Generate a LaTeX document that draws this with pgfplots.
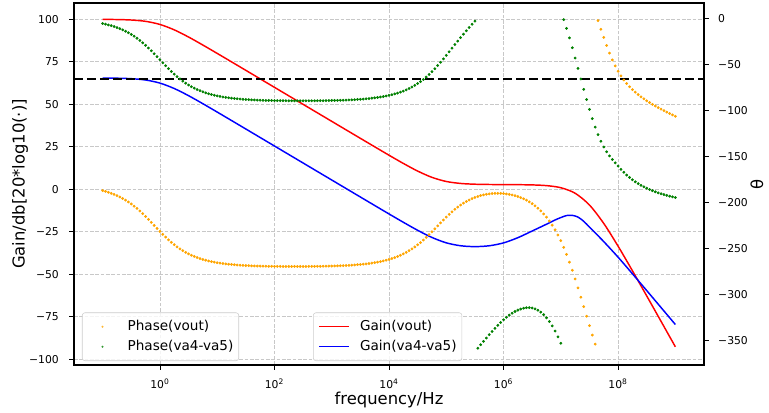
\documentclass[border=0pt]{standalone}
\usepackage{fontspec}
\setmainfont{DejaVu Sans}
\usepackage{pgfplots}
\pgfplotsset{compat=1.18}

\definecolor{gridgray}{RGB}{200,200,200}
\definecolor{legframe}{RGB}{204,204,204}
\definecolor{mplorange}{RGB}{255,165,0}
\definecolor{mplgreen}{RGB}{0,128,0}

\newcommand\tickfont{\fontsize{8.1}{9.7}\selectfont}
\newcommand\legfont{\fontsize{10.2}{12}\selectfont}
\newcommand\labfont{\fontsize{12.3}{14.8}\selectfont}

% x is log10(f); one px of the reference = 0.75pt
\pgfplotsset{
  bode/.style={
    scale only axis, width=472.5pt, height=271.5pt,
    xmin=-1.5, xmax=9.5,
    tick align=outside, major tick length=3.7pt,
    every tick/.style={black, line width=0.6pt},
    ticklabel style={font=\tickfont},
    legend cell align=left,
    legend style={font=\legfont, draw=legframe, fill=white, fill opacity=0.8,
      text opacity=1, rounded corners=2pt, inner xsep=4pt, inner ysep=5pt,
      column sep=7.5pt, row sep=4pt, anchor=south west,
      nodes={inner xsep=0pt, inner ysep=0pt, text height=8.5pt, text depth=2.5pt}},
  },
  phase/.style={only marks, mark=*, mark size=0.85pt, #1,
    legend image code/.code={\path[draw=none, fill=none] (0pt,-1pt) rectangle (22.5pt,1pt);
      \fill[#1, draw=none] (11.25pt,0pt) circle[radius=0.85pt];}},
}

\begin{document}
\begin{tikzpicture}
\begin{axis}[bode, name=gain,
  ymin=-103.3, ymax=109.6,
  axis line style={black, line width=0.8pt},
  tick pos=left,
  xtick={0,2,4,6,8},
  xticklabels={10\textsuperscript{0},10\textsuperscript{2},10\textsuperscript{4},10\textsuperscript{6},10\textsuperscript{8}},
  ytick={-100,-75,-50,-25,0,25,50,75,100},
  yticklabels={−100,−75,−50,−25,0,25,50,75,100},
  xticklabel style={anchor=north, inner sep=0pt, yshift=-6.5pt},
  yticklabel style={anchor=east, inner sep=0pt, xshift=-7.5pt},
  grid=major,
  major grid style={gridgray, line width=0.6pt, dash pattern=on 2.8pt off 1.2pt},
  xlabel={frequency/Hz},
  ylabel={Gain/db[20*log10(·)]},
  xlabel style={font=\labfont, at={(axis description cs:0.5,-0.0967)}, anchor=center},
  ylabel style={font=\labfont, at={(axis description cs:-0.0857,0.5)}, anchor=center},
  legend style={at={(0.3794,0.011)}},
  legend image code/.code={\draw[#1] (0pt,0pt) -- (22.5pt,0pt);},
]
\addplot[red, line width=1.1pt, smooth] coordinates {
(-1,99.96)(-0.75,99.87)(-0.5,99.59)(-0.25,98.81)(0,96.99)(0.25,93.81)(0.5,89.59)(0.75,84.87)
(1,79.96)(1.25,74.99)(1.5,70.00)(1.75,65.00)(2,60.00)(2.25,55.00)(2.5,50.00)(2.75,45.00)
(3,40.00)(3.25,35.00)(3.5,30.01)(3.75,25.03)(4,20.08)(4.25,15.25)(4.5,10.76)(4.75,7.05)
(5,4.63)(5.25,3.47)(5.5,3.02)(5.75,2.86)(6,2.80)(6.25,2.74)(6.5,2.61)(6.75,2.19)
(7,0.96)(7.25,-2.30)(7.5,-9.21)(7.75,-20.07)(8,-33.44)(8.25,-47.87)(8.5,-62.69)(8.75,-77.63)(9,-92.61)};
\addlegendentry{Gain(vout)}
\addplot[blue, line width=1.1pt, smooth] coordinates {
(-1,65.46)(-0.75,65.37)(-0.5,65.09)(-0.25,64.31)(0,62.49)(0.25,59.31)(0.5,55.09)(0.75,50.37)
(1,45.46)(1.25,40.49)(1.5,35.50)(1.75,30.50)(2,25.50)(2.25,20.50)(2.5,15.50)(2.75,10.50)
(3,5.50)(3.25,0.50)(3.5,-4.50)(3.75,-9.49)(4,-14.46)(4.25,-19.36)(4.5,-24.08)(4.75,-28.29)
(5,-31.45)(5.25,-33.17)(5.5,-33.68)(5.75,-33.18)(6,-31.49)(6.25,-28.42)(6.5,-24.49)(6.75,-20.5)
(6.9,-18.0)(7.0,-16.6)(7.1,-15.4)(7.2,-15.3)(7.3,-16.3)(7.4,-18.8)(7.5,-22.2)(7.6,-25.6)
(7.75,-30.74)(8,-39.9)(8.25,-49.63)(8.5,-59.54)(8.75,-69.51)(9,-79.5)};
\addlegendentry{Gain(va4-va5)}
\addplot[black, line width=1.5pt, dash pattern=on 6.75pt off 3pt, forget plot]
  coordinates {(-1.5,65) (9.5,65)};
\end{axis}

\begin{axis}[bode,
  ymin=-376.6, ymax=16.6,
  axis x line=none,
  axis y line*=right,
  y axis line style={black, line width=0.8pt, -},
  ytick={-350,-300,-250,-200,-150,-100,-50,0},
  yticklabels={−350,−300,−250,−200,−150,−100,−50,0},
  yticklabel style={anchor=west, inner sep=0pt, xshift=6.75pt},
  ylabel={θ},
  ylabel style={font=\labfont, at={(axis description cs:1.0841,0.5)}, anchor=center},
  legend style={at={(0.0127,0.011)}},
]
\addplot[phase=mplorange] coordinates {
(-1.00,-187.2)(-0.95,-188.0)(-0.90,-189.0)(-0.85,-190.1)(-0.80,-191.3)(-0.75,-192.6)(-0.70,-194.1)(-0.65,-195.7)(-0.60,-197.5)(-0.55,-199.5)
(-0.50,-201.7)(-0.45,-204.1)(-0.40,-206.6)(-0.35,-209.3)(-0.30,-212.2)(-0.25,-215.3)(-0.20,-218.5)(-0.15,-221.7)(-0.10,-225.0)(-0.05,-228.3)
(0.00,-231.5)(0.05,-234.7)(0.10,-237.7)(0.15,-240.6)(0.20,-243.4)(0.25,-245.9)(0.30,-248.3)(0.35,-250.5)(0.40,-252.4)(0.45,-254.3)
(0.50,-255.9)(0.55,-257.4)(0.60,-258.7)(0.65,-259.9)(0.70,-261.0)(0.75,-262.0)(0.80,-262.8)(0.85,-263.6)(0.90,-264.3)(0.95,-264.9)
(1.00,-265.5)(1.05,-265.9)(1.10,-266.4)(1.15,-266.8)(1.20,-267.1)(1.25,-267.4)(1.30,-267.7)(1.35,-268.0)(1.40,-268.2)(1.45,-268.4)
(1.50,-268.6)(1.55,-268.7)(1.60,-268.9)(1.65,-269.0)(1.70,-269.1)(1.75,-269.2)(1.80,-269.3)(1.85,-269.3)(1.90,-269.4)(1.95,-269.4)
(2.00,-269.5)(2.05,-269.5)(2.10,-269.5)(2.15,-269.6)(2.20,-269.6)(2.25,-269.6)(2.30,-269.6)(2.35,-269.6)(2.40,-269.6)(2.45,-269.6)
(2.50,-269.6)(2.55,-269.6)(2.60,-269.5)(2.65,-269.5)(2.70,-269.5)(2.75,-269.4)(2.80,-269.4)(2.85,-269.3)(2.90,-269.3)(2.95,-269.2)
(3.00,-269.1)(3.05,-269.0)(3.10,-268.9)(3.15,-268.8)(3.20,-268.7)(3.25,-268.5)(3.30,-268.4)(3.35,-268.2)(3.40,-267.9)(3.45,-267.7)
(3.50,-267.4)(3.55,-267.1)(3.60,-266.8)(3.65,-266.4)(3.70,-265.9)(3.75,-265.4)(3.80,-264.9)(3.85,-264.3)(3.90,-263.6)(3.95,-262.8)
(4.00,-262.0)(4.05,-261.0)(4.10,-259.9)(4.15,-258.7)(4.20,-257.4)(4.25,-255.9)(4.30,-254.3)(4.35,-252.4)(4.40,-250.5)(4.45,-248.4)
(4.50,-246.1)(4.55,-243.6)(4.60,-240.9)(4.65,-238.0)(4.70,-235.0)(4.75,-231.9)(4.80,-228.7)(4.85,-225.5)(4.90,-222.2)(4.95,-219.1)
(5.00,-215.9)(5.05,-213.0)(5.10,-210.2)(5.15,-207.5)(5.20,-205.1)(5.25,-202.9)(5.30,-200.8)(5.35,-199.0)(5.40,-197.4)(5.45,-195.9)
(5.50,-194.6)(5.55,-193.6)(5.60,-192.6)(5.65,-191.9)(5.70,-191.2)(5.75,-190.8)(5.80,-190.4)(5.85,-190.2)(5.90,-190.2)(5.95,-190.2)
(6.00,-190.4)(6.05,-190.8)(6.10,-191.3)(6.15,-191.9)(6.20,-192.7)(6.25,-193.6)(6.30,-194.8)(6.35,-196.1)(6.40,-197.6)(6.45,-199.4)
(6.50,-201.4)(6.55,-203.7)(6.60,-206.3)(6.65,-209.2)(6.70,-212.5)(6.75,-216.1)(6.80,-220.2)(6.85,-224.8)(6.90,-229.8)(6.95,-235.4)
(7.00,-241.5)(7.05,-248.8)(7.10,-256.5)(7.15,-264.9)(7.20,-273.7)(7.25,-283.1)(7.30,-292.9)(7.35,-302.9)(7.40,-313.2)(7.45,-323.6)
(7.50,-333.9)(7.55,-344.1)(7.60,-353.9)(7.65,-2.5)(7.70,-12.0)(7.75,-20.8)(7.80,-29.5)(7.85,-37.8)(7.90,-45.2)(7.95,-51.8)
(8.00,-57.6)(8.05,-62.6)(8.10,-67.0)(8.15,-70.9)(8.20,-74.4)(8.25,-77.5)(8.30,-80.3)(8.35,-82.9)(8.40,-85.3)(8.45,-87.5)
(8.50,-89.6)(8.55,-91.6)(8.60,-93.5)(8.65,-95.3)(8.70,-97.0)(8.75,-98.7)(8.80,-100.3)(8.85,-101.9)(8.90,-103.5)(8.95,-105.0)
(9.00,-106.5)};
\addlegendentry{Phase(vout)}
\addplot[phase=mplgreen] coordinates {
(-1.00,-5.7)(-0.95,-6.4)(-0.90,-7.2)(-0.85,-8.0)(-0.80,-9.0)(-0.75,-10.1)(-0.70,-11.3)(-0.65,-12.6)(-0.60,-14.1)(-0.55,-15.7)
(-0.50,-17.6)(-0.45,-19.5)(-0.40,-21.7)(-0.35,-24.1)(-0.30,-26.6)(-0.25,-29.4)(-0.20,-32.3)(-0.15,-35.3)(-0.10,-38.5)(-0.05,-41.7)
(0.00,-45.0)(0.05,-48.3)(0.10,-51.5)(0.15,-54.7)(0.20,-57.8)(0.25,-60.7)(0.30,-63.4)(0.35,-65.9)(0.40,-68.3)(0.45,-70.5)
(0.50,-72.5)(0.55,-74.3)(0.60,-75.9)(0.65,-77.4)(0.70,-78.7)(0.75,-79.9)(0.80,-81.0)(0.85,-82.0)(0.90,-82.8)(0.95,-83.6)
(1.00,-84.3)(1.05,-84.9)(1.10,-85.5)(1.15,-86.0)(1.20,-86.4)(1.25,-86.8)(1.30,-87.1)(1.35,-87.4)(1.40,-87.7)(1.45,-88.0)
(1.50,-88.2)(1.55,-88.4)(1.60,-88.6)(1.65,-88.7)(1.70,-88.9)(1.75,-89.0)(1.80,-89.1)(1.85,-89.2)(1.90,-89.3)(1.95,-89.3)
(2.00,-89.4)(2.05,-89.4)(2.10,-89.5)(2.15,-89.5)(2.20,-89.5)(2.25,-89.6)(2.30,-89.6)(2.35,-89.6)(2.40,-89.6)(2.45,-89.6)
(2.50,-89.6)(2.55,-89.6)(2.60,-89.6)(2.65,-89.6)(2.70,-89.6)(2.75,-89.5)(2.80,-89.5)(2.85,-89.5)(2.90,-89.4)(2.95,-89.4)
(3.00,-89.3)(3.05,-89.2)(3.10,-89.2)(3.15,-89.1)(3.20,-89.0)(3.25,-88.9)(3.30,-88.7)(3.35,-88.6)(3.40,-88.4)(3.45,-88.2)
(3.50,-88.0)(3.55,-87.8)(3.60,-87.5)(3.65,-87.2)(3.70,-86.8)(3.75,-86.4)(3.80,-86.0)(3.85,-85.5)(3.90,-85.0)(3.95,-84.4)
(4.00,-83.7)(4.05,-83.0)(4.10,-82.2)(4.15,-81.3)(4.20,-80.2)(4.25,-79.1)(4.30,-77.8)(4.35,-76.3)(4.40,-74.7)(4.45,-72.9)
(4.50,-70.9)(4.55,-68.8)(4.60,-66.4)(4.65,-63.8)(4.70,-61.0)(4.75,-58.0)(4.80,-54.8)(4.85,-51.3)(4.90,-47.8)(4.95,-44.1)
(5.00,-40.3)(5.05,-36.4)(5.10,-32.5)(5.15,-28.6)(5.20,-24.8)(5.25,-21.0)(5.30,-17.3)(5.35,-13.6)(5.40,-10.0)(5.45,-6.5)
(5.50,-3.1)(5.55,-358.4)(5.60,-354.6)(5.65,-350.9)(5.70,-347.3)(5.75,-343.7)(5.80,-340.2)(5.85,-336.8)(5.90,-333.5)(5.95,-330.4)
(6.00,-327.5)(6.05,-324.8)(6.10,-322.4)(6.15,-320.3)(6.20,-318.5)(6.25,-317.0)(6.30,-315.8)(6.35,-314.9)(6.40,-314.4)(6.45,-314.3)
(6.50,-314.7)(6.55,-315.6)(6.60,-317.1)(6.65,-319.2)(6.70,-321.9)(6.75,-325.3)(6.80,-329.4)(6.85,-334.2)(6.90,-339.7)(6.95,-346.0)
(7.00,-353.0)(7.05,-1.5)(7.10,-11.0)(7.15,-21.3)(7.20,-32.0)(7.25,-43.2)(7.30,-54.5)(7.35,-65.9)(7.40,-77.2)(7.45,-88.3)
(7.50,-99.0)(7.55,-109.0)(7.60,-118.2)(7.65,-126.4)(7.70,-133.6)(7.75,-139.8)(7.80,-145.0)(7.85,-149.5)(7.90,-153.4)(7.95,-157.0)
(8.00,-160.5)(8.05,-164.1)(8.10,-167.3)(8.15,-170.3)(8.20,-172.9)(8.25,-175.4)(8.30,-177.6)(8.35,-179.6)(8.40,-181.4)(8.45,-183.1)
(8.50,-184.6)(8.55,-186.0)(8.60,-187.3)(8.65,-188.5)(8.70,-189.6)(8.75,-190.6)(8.80,-191.5)(8.85,-192.4)(8.90,-193.2)(8.95,-193.9)
(9.00,-194.7)};
\addlegendentry{Phase(va4-va5)}
\end{axis}

\pgfresetboundingbox
\path ([shift={(-55.5pt,-36pt)}]gain.south west) rectangle ([shift={(48.75pt,2.25pt)}]gain.north east);
\end{tikzpicture}
\end{document}
